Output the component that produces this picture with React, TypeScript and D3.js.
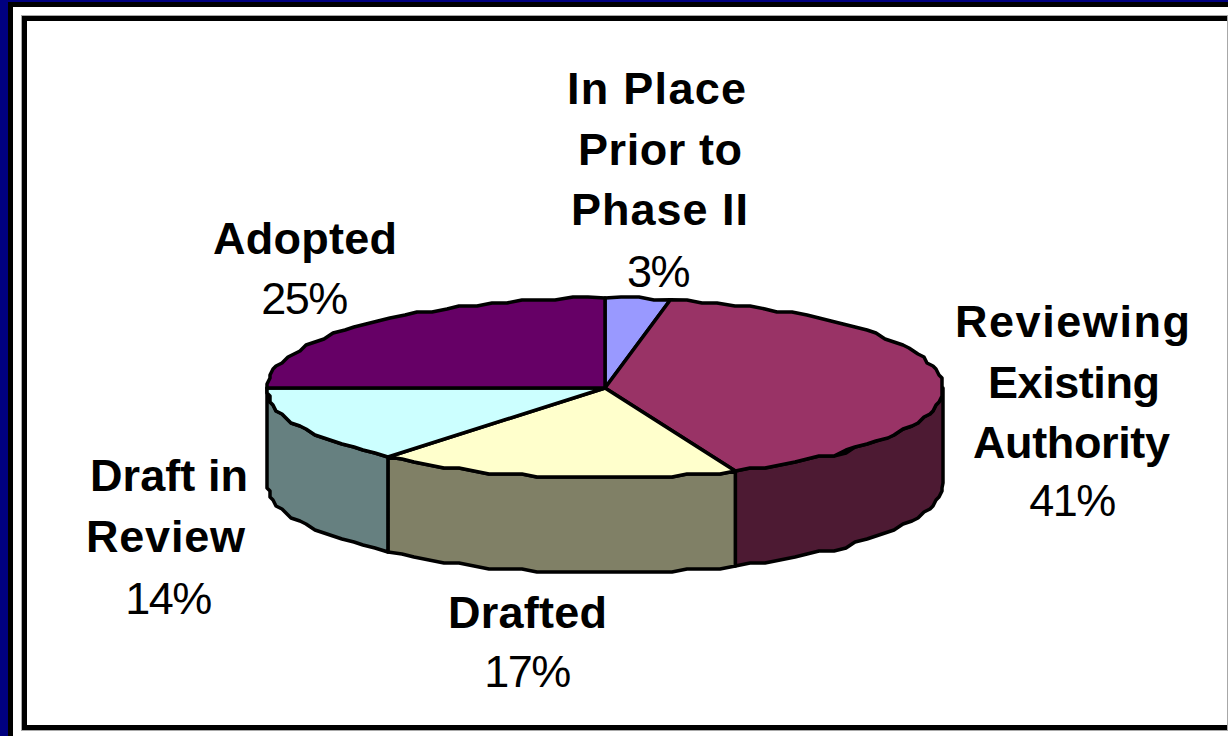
import React from "react";
import * as d3 from "d3";

const categories = ["In Place Prior to Phase II", "Reviewing Existing Authority", "Drafted", "Draft in Review", "Adopted"];
const values = [3.1, 40.6, 17.4, 13.9, 25];
const topColors = ["#9999ff", "#993366", "#ffffcc", "#ccffff", "#660066"];
const sideColors = ["#4d4d80", "#4d1a33", "#808066", "#668080", "#330033"];
const labelLines = [["In Place", "Prior to", "Phase II"], ["Reviewing", "Existing", "Authority"], ["Drafted"], ["Draft in", "Review"], ["Adopted"]];
const lineWidths = [[179, 164, 177], [235, 172, 197], [159], [158, 159], [184]];
const lineX = [[656.5, 660, 659.5], [1072.5, 1074, 1071.5], [527.5], [169, 165.5], [305]];
const labelY = [104, 337, 628, 491, 254];
const pctX = [658, 1072, 527, 168, 304];
const pctY = [287, 516, 687, 614, 314];

const W = 1228, H = 736;
const cx = 605, cy = 388, rx = 338, ry = 90, depth = 95;
const lineGap = 60.5;
const px = (a: number) => cx + rx * Math.sin(a);
const py = (a: number) => cy - ry * Math.cos(a);
const snap = (v: number) => Math.round(v / 3) * 3;

function arcPts(a0: number, a1: number, dy = 0) {
  const n = Math.max(1, Math.ceil(Math.abs(a1 - a0) / 0.05));
  return d3.range(n + 1).map((i) => {
    const a = a0 + ((a1 - a0) * i) / n;
    const ends = i === 0 || i === n;
    const x = px(a), y = py(a);
    return [ends ? x : snap(x), (ends ? y : snap(y)) + dy] as [number, number];
  });
}
const line = d3.line();
const FONT = "Liberation Sans, Arial, sans-serif";

export default function App() {
  const arcs = d3.pie<number>().sort(null)(values);
  const front = arcs
    .map((d, i) => {
      const a0 = Math.max(d.startAngle, Math.PI / 2);
      const a1 = Math.min(d.endAngle, (3 * Math.PI) / 2);
      return a1 > a0 ? { i, a0, a1 } : null;
    })
    .filter(Boolean) as { i: number; a0: number; a1: number }[];
  return (
    <svg width={W} height={H} style={{ position: "fixed", left: 0, top: 0, display: "block" }}>
      <rect x={0} y={0} width={W} height={H} fill="#ffffff" />
      <rect x={0} y={0} width={8} height={H} fill="#000080" />
      <rect x={0} y={0} width={W} height={2} fill="#000080" />
      <rect x={8} y={2} width={5} height={H - 2} fill="#000" />
      <rect x={8} y={2} width={W - 8} height={5} fill="#000" />
      <rect x={21} y={15} width={W - 21} height={716} fill="#a8a8a8" />
      <rect x={22} y={16} width={W - 23} height={714} fill="#000" />
      <rect x={27} y={21} width={W - 28} height={704} fill="#ffffff" />
      <rect x={1227} y={21} width={1} height={710} fill="#a8a8a8" />
      {front.map(({ i, a0, a1 }) => {
        const top = arcPts(a0, a1);
        const bottom = arcPts(a1, a0, depth);
        return <path key={i} d={line([...top, ...bottom])! + "Z"} fill={sideColors[i]} stroke="#000" strokeWidth={3.5} strokeLinejoin="round" />;
      })}
      {arcs.map((d, i) => (
        <path key={i} d={line([[cx, cy], ...arcPts(d.startAngle, d.endAngle)])! + "Z"} fill={topColors[i]} stroke="#000" strokeWidth={3.5} strokeLinejoin="round" />
      ))}
      {categories.map((c, i) => (
        <g key={c} fontFamily={FONT} fill="#000" fontSize={45} textAnchor="middle">
          {labelLines[i].map((l, j) => (
            <text key={l} x={lineX[i][j]} y={labelY[i] + j * lineGap} fontWeight="bold" textLength={lineWidths[i][j]} lengthAdjust="spacing">{l}</text>
          ))}
          <text x={pctX[i]} y={pctY[i]} letterSpacing={-1.6}>{Math.round(values[i])}%</text>
        </g>
      ))}
    </svg>
  );
}
